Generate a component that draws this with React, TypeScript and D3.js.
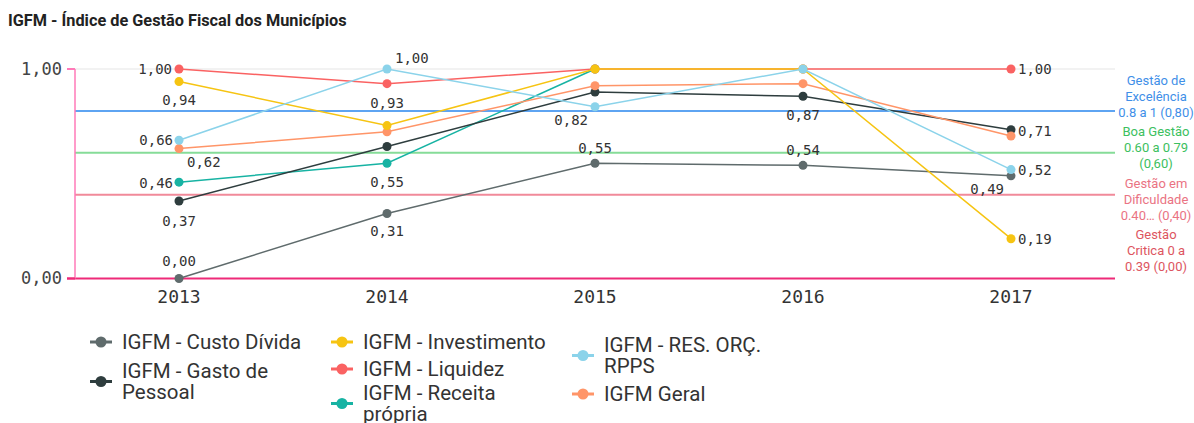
import React, { useEffect, useRef } from 'react';
import * as d3 from 'd3';

// anos e séries do IGFM
const years = ['2013', '2014', '2015', '2016', '2017'];

const custoDivida = [0.0, 0.31, 0.55, 0.54, 0.49];
const gastoPessoal = [0.37, 0.63, 0.89, 0.87, 0.71];
const investimento = [0.94, 0.73, 1.0, 1.0, 0.19];
const liquidez = [1.0, 0.93, 1.0, 1.0, 1.0];
const receitaPropria = [0.46, 0.55, 1.0, null, null];
const resOrcRpps = [0.66, 1.0, 0.82, 1.0, 0.52];
const igfmGeral = [0.62, 0.7, 0.92, 0.93, 0.68];

const yTicks = [0, 1];

// faixas de referência
const refValues = [0.8, 0.6, 0.4, 0.0];
const refLabels = [
    ['Gestão de', 'Excelência', '0.8 a 1 (0,80)'],
    ['Boa Gestão', '0.60 a 0.79', '(0,60)'],
    ['Gestão em', 'Dificuldade', '0.40… (0,40)'],
    ['Gestão', 'Critica 0 a', '0.39 (0,00)'],
];

const series = [
    { key: 'custo', name: ['IGFM - Custo Dívida'], values: custoDivida, color: '#5f6b6c' },
    { key: 'pessoal', name: ['IGFM - Gasto de', 'Pessoal'], values: gastoPessoal, color: '#2e3d3e' },
    { key: 'invest', name: ['IGFM - Investimento'], values: investimento, color: '#f6c412' },
    { key: 'liquidez', name: ['IGFM - Liquidez'], values: liquidez, color: '#fa6262' },
    { key: 'receita', name: ['IGFM - Receita', 'própria'], values: receitaPropria, color: '#17b3a3' },
    { key: 'rpps', name: ['IGFM - RES. ORÇ.', 'RPPS'], values: resOrcRpps, color: '#8bd3ea' },
    { key: 'geral', name: ['IGFM Geral'], values: igfmGeral, color: '#ff9568' },
];

const drawOrder = ['receita', 'liquidez', 'custo', 'pessoal', 'geral', 'invest', 'rpps'];

// onde fica cada rótulo de valor
const valueLabels: [string, number, string, number, number][] = [
    ['liquidez', 0, 'end', -7, 0],
    ['invest', 0, 'middle', 0, 19],
    ['rpps', 0, 'end', -6, 0],
    ['geral', 0, 'start', 8, 13],
    ['receita', 0, 'end', -6, 1],
    ['pessoal', 0, 'middle', 0, 20],
    ['custo', 0, 'middle', 0, -17],
    ['rpps', 1, 'start', 8, -11],
    ['liquidez', 1, 'middle', 0, 19],
    ['receita', 1, 'middle', 0, 19],
    ['custo', 1, 'middle', 0, 18],
    ['rpps', 2, 'end', -7, 13],
    ['custo', 2, 'middle', 0, -15],
    ['pessoal', 3, 'middle', 0, 19],
    ['custo', 3, 'middle', 0, -15],
    ['liquidez', 4, 'start', 7, 0],
    ['pessoal', 4, 'start', 7, 1],
    ['rpps', 4, 'start', 7, 1],
    ['custo', 4, 'end', -7, 13],
    ['invest', 4, 'start', 7, 0],
];

// posição da legenda: coluna, y da primeira linha
const legendPos: Record<string, [number, number]> = {
    custo: [0, 342],
    pessoal: [0, 371],
    invest: [1, 342],
    liquidez: [1, 369],
    receita: [1, 393],
    rpps: [2, 345],
    geral: [2, 394],
};

export default function App() {
    const ref = useRef<SVGSVGElement>(null);

    useEffect(() => {
        if (!ref.current) return;
        const svg = d3.select(ref.current);
        svg.selectAll('*').remove();

        const width = 1194;
        const height = 423;
        const left = 75;
        const right = 1115;
        const top = 69;
        const bottom = 278.5;
        const mono = '"DejaVu Sans Mono", monospace';
        const sans = 'Roboto, sans-serif';

        svg.attr('width', width).attr('height', height);

        svg.append('text')
            .attr('x', 8).attr('y', 26)
            .attr('font-family', sans).attr('font-weight', 700).attr('font-size', 16.3)
            .attr('fill', '#222')
            .text('IGFM - Índice de Gestão Fiscal dos Municípios');

        const x = d3.scaleBand().domain(years).range([left, right]);
        const cx = (i: number) => x(years[i])! + x.bandwidth() / 2;
        const y = d3.scaleLinear().domain([0, 1]).range([bottom, top]);

        // grade no topo
        svg.append('line')
            .attr('x1', left).attr('x2', right)
            .attr('y1', y(1)).attr('y2', y(1))
            .attr('stroke', '#eeeeee').attr('stroke-width', 1.5);

        // linhas de referência
        const refColors = ['#5ea4f2', '#86dc98', '#f18a9a', '#ee2a78'];
        const refText = ['#3f8fe8', '#3cc060', '#ea7383', '#dd5560'];
        refValues.forEach((v, i) => {
            svg.append('line')
                .attr('x1', i === 3 ? 67 : left).attr('x2', right)
                .attr('y1', y(v)).attr('y2', y(v))
                .attr('stroke', refColors[i]).attr('stroke-width', 2);
        });
        const labelTops = [80, 131, 183, 234];
        refLabels.forEach((lines, i) => {
            lines.forEach((t, j) => {
                svg.append('text')
                    .attr('x', 1156).attr('y', labelTops[i] + j * 16)
                    .attr('dy', '0.35em')
                    .attr('text-anchor', 'middle')
                    .attr('font-family', sans).attr('font-size', 13)
                    .attr('fill', refText[i])
                    .text(t);
            });
        });

        // eixo Y
        svg.append('line')
            .attr('x1', left).attr('x2', left)
            .attr('y1', y(1)).attr('y2', y(0))
            .attr('stroke', '#ff7ab8').attr('stroke-width', 1.5);
        yTicks.forEach(t => {
            svg.append('line')
                .attr('x1', 67).attr('x2', left)
                .attr('y1', y(t)).attr('y2', y(t))
                .attr('stroke', t === 0 ? '#ee2a78' : '#ff7ab8').attr('stroke-width', 2);
            svg.append('text')
                .attr('x', 62).attr('y', y(t))
                .attr('dy', '0.35em').attr('text-anchor', 'end')
                .attr('font-family', mono).attr('font-size', 17)
                .attr('fill', '#444')
                .text(d3.format('.2f')(t).replace('.', ','));
        });

        // eixo X
        years.forEach((yr, i) => {
            svg.append('text')
                .attr('x', cx(i)).attr('y', 297)
                .attr('dy', '0.35em').attr('text-anchor', 'middle')
                .attr('font-family', mono).attr('font-size', 18)
                .attr('fill', '#333')
                .text(yr);
        });

        // séries
        const line = d3.line<number | null>()
            .defined(d => d !== null)
            .x((_, i) => cx(i))
            .y(d => y(d as number));

        drawOrder.forEach(k => {
            const s = series.find(s => s.key === k)!;
            svg.append('path')
                .attr('d', line(s.values)!)
                .attr('fill', 'none')
                .attr('stroke', s.color).attr('stroke-width', 1.5);
            s.values.forEach((v, i) => {
                if (v === null) return;
                svg.append('circle')
                    .attr('cx', cx(i)).attr('cy', y(v)).attr('r', 4.5)
                    .attr('fill', s.color);
            });
        });

        // rótulos de valores
        valueLabels.forEach(([k, i, anchor, dx, dy]) => {
            const s = series.find(s => s.key === k)!;
            const v = s.values[i] as number;
            svg.append('text')
                .attr('x', cx(i) + dx).attr('y', y(v) + dy)
                .attr('dy', '0.35em').attr('text-anchor', anchor)
                .attr('font-family', mono).attr('font-size', 14)
                .attr('fill', '#333')
                .text(d3.format('.2f')(v).replace('.', ','));
        });

        // legenda
        const colX = [101, 342, 583];
        series.forEach(s => {
            const [col, ly] = legendPos[s.key];
            const my = ly + (s.name.length - 1) * 10.5;
            const g = svg.append('g');
            g.append('line')
                .attr('x1', colX[col] - 11).attr('x2', colX[col] + 11)
                .attr('y1', my).attr('y2', my)
                .attr('stroke', s.color).attr('stroke-width', 3);
            g.append('circle')
                .attr('cx', colX[col]).attr('cy', my).attr('r', 5.5)
                .attr('fill', s.color);
            s.name.forEach((t, j) => {
                g.append('text')
                    .attr('x', colX[col] + 21).attr('y', ly + j * 21)
                    .attr('dy', '0.35em')
                    .attr('font-family', sans).attr('font-size', 20.5)
                    .attr('fill', '#333')
                    .text(t);
            });
        });
    }, []);

    return <svg ref={ref} style={{ position: 'absolute', left: 0, top: 0, display: 'block' }} />;
}
